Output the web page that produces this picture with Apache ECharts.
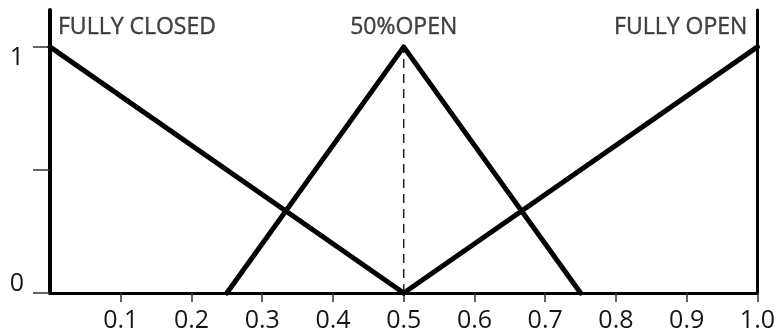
<!DOCTYPE html>
<html>
<head>
<meta charset="utf-8">
<script src="https://cdn.jsdelivr.net/npm/echarts@6/dist/echarts.min.js"></script>
<style>
  html, body { margin: 0; padding: 0; background: #fff; }
  #chart { width: 778px; height: 335px; }
</style>
</head>
<body>
<div id="chart"></div>
<script>
// membership functions (x, degree)
const fullyClosed = [[0, 1], [0.5, 0]]
const halfOpen = [[0.25, 0], [0.5, 1], [0.75, 0]]
const fullyOpen = [[0.5, 0], [1, 1]]
const centerGuide = [[0.5, 0], [0.5, 1]]
const peaks = [[0, 1], [0.5, 1], [1, 1]]
const names = ['FULLY CLOSED', '50%OPEN', 'FULLY OPEN']
const xTicks = [0.1, 0.2, 0.3, 0.4, 0.5, 0.6, 0.7, 0.8, 0.9, 1.0]
const yTicks = [0, 0.5, 1]

const font = '"Open Sans", sans-serif'
const ink = '#000'
const textColor = '#151515'

const chart = echarts.init(document.getElementById('chart'))

function tri(data) {
  return {
    type: 'line',
    data,
    symbol: 'none',
    clip: false,
    lineStyle: { color: ink, width: 5, cap: 'round', join: 'round' },
    z: 3
  }
}

const aligns = ['left', 'center', 'right']
const offsets = [[8, 0], [0, 0], [-10, 0]]

const option = {
  animation: false,
  grid: { left: 50, right: 20, top: 10, bottom: 42 },
  xAxis: {
    type: 'value',
    min: 0,
    max: 1,
    interval: 0.1,
    splitLine: { show: false },
    axisLine: { lineStyle: { color: ink, width: 3 } },
    axisTick: { customValues: xTicks, length: 9, lineStyle: { color: '#333', width: 1.5 } },
    axisLabel: {
      customValues: xTicks,
      formatter: v => v.toFixed(1),
      fontFamily: font,
      fontSize: 25,
      color: textColor,
      margin: 15
    }
  },
  yAxis: [{
    type: 'value',
    min: 0,
    max: 1.15,
    interval: 0.5,
    splitLine: { show: false },
    axisLine: { show: true, lineStyle: { color: ink, width: 4 } },
    axisTick: { customValues: yTicks, length: 17, lineStyle: { color: '#333', width: 1.5 } },
    axisLabel: {
      customValues: yTicks,
      formatter: v => v === 1 ? '{hi|1}' : (v === 0 ? '{lo|0}' : ''),
      color: textColor,
      margin: 26,
      rich: {
        hi: { fontFamily: font, fontSize: 25, color: textColor, padding: [22, 0, 0, 0] },
        lo: { fontFamily: font, fontSize: 25, color: textColor, padding: [0, 0, 18, 0] }
      }
    }
  }, {
    type: 'value',
    position: 'right',
    min: 0,
    max: 1.15,
    interval: 0.5,
    splitLine: { show: false },
    axisLine: { show: true, lineStyle: { color: ink, width: 3 } },
    axisTick: { show: false },
    axisLabel: { show: false }
  }],
  series: [
    tri(fullyClosed),
    tri(halfOpen),
    tri(fullyOpen),
    {
      type: 'line',
      data: centerGuide,
      symbol: 'none',
      lineStyle: { color: '#222', width: 1.5, type: [9, 6] },
      z: 2
    },
    {
      type: 'scatter',
      symbolSize: 0,
      silent: true,
      data: peaks.map((p, i) => ({
        value: p,
        label: {
          show: true,
          position: 'top',
          formatter: names[i],
          align: aligns[i],
          offset: offsets[i],
          distance: 8,
          fontFamily: font,
          fontSize: 23,
          color: textColor,
          textBorderColor: textColor,
          textBorderWidth: 0.4
        }
      })),
      z: 4
    }
  ]
}

chart.setOption(option)
</script>
</body>
</html>
